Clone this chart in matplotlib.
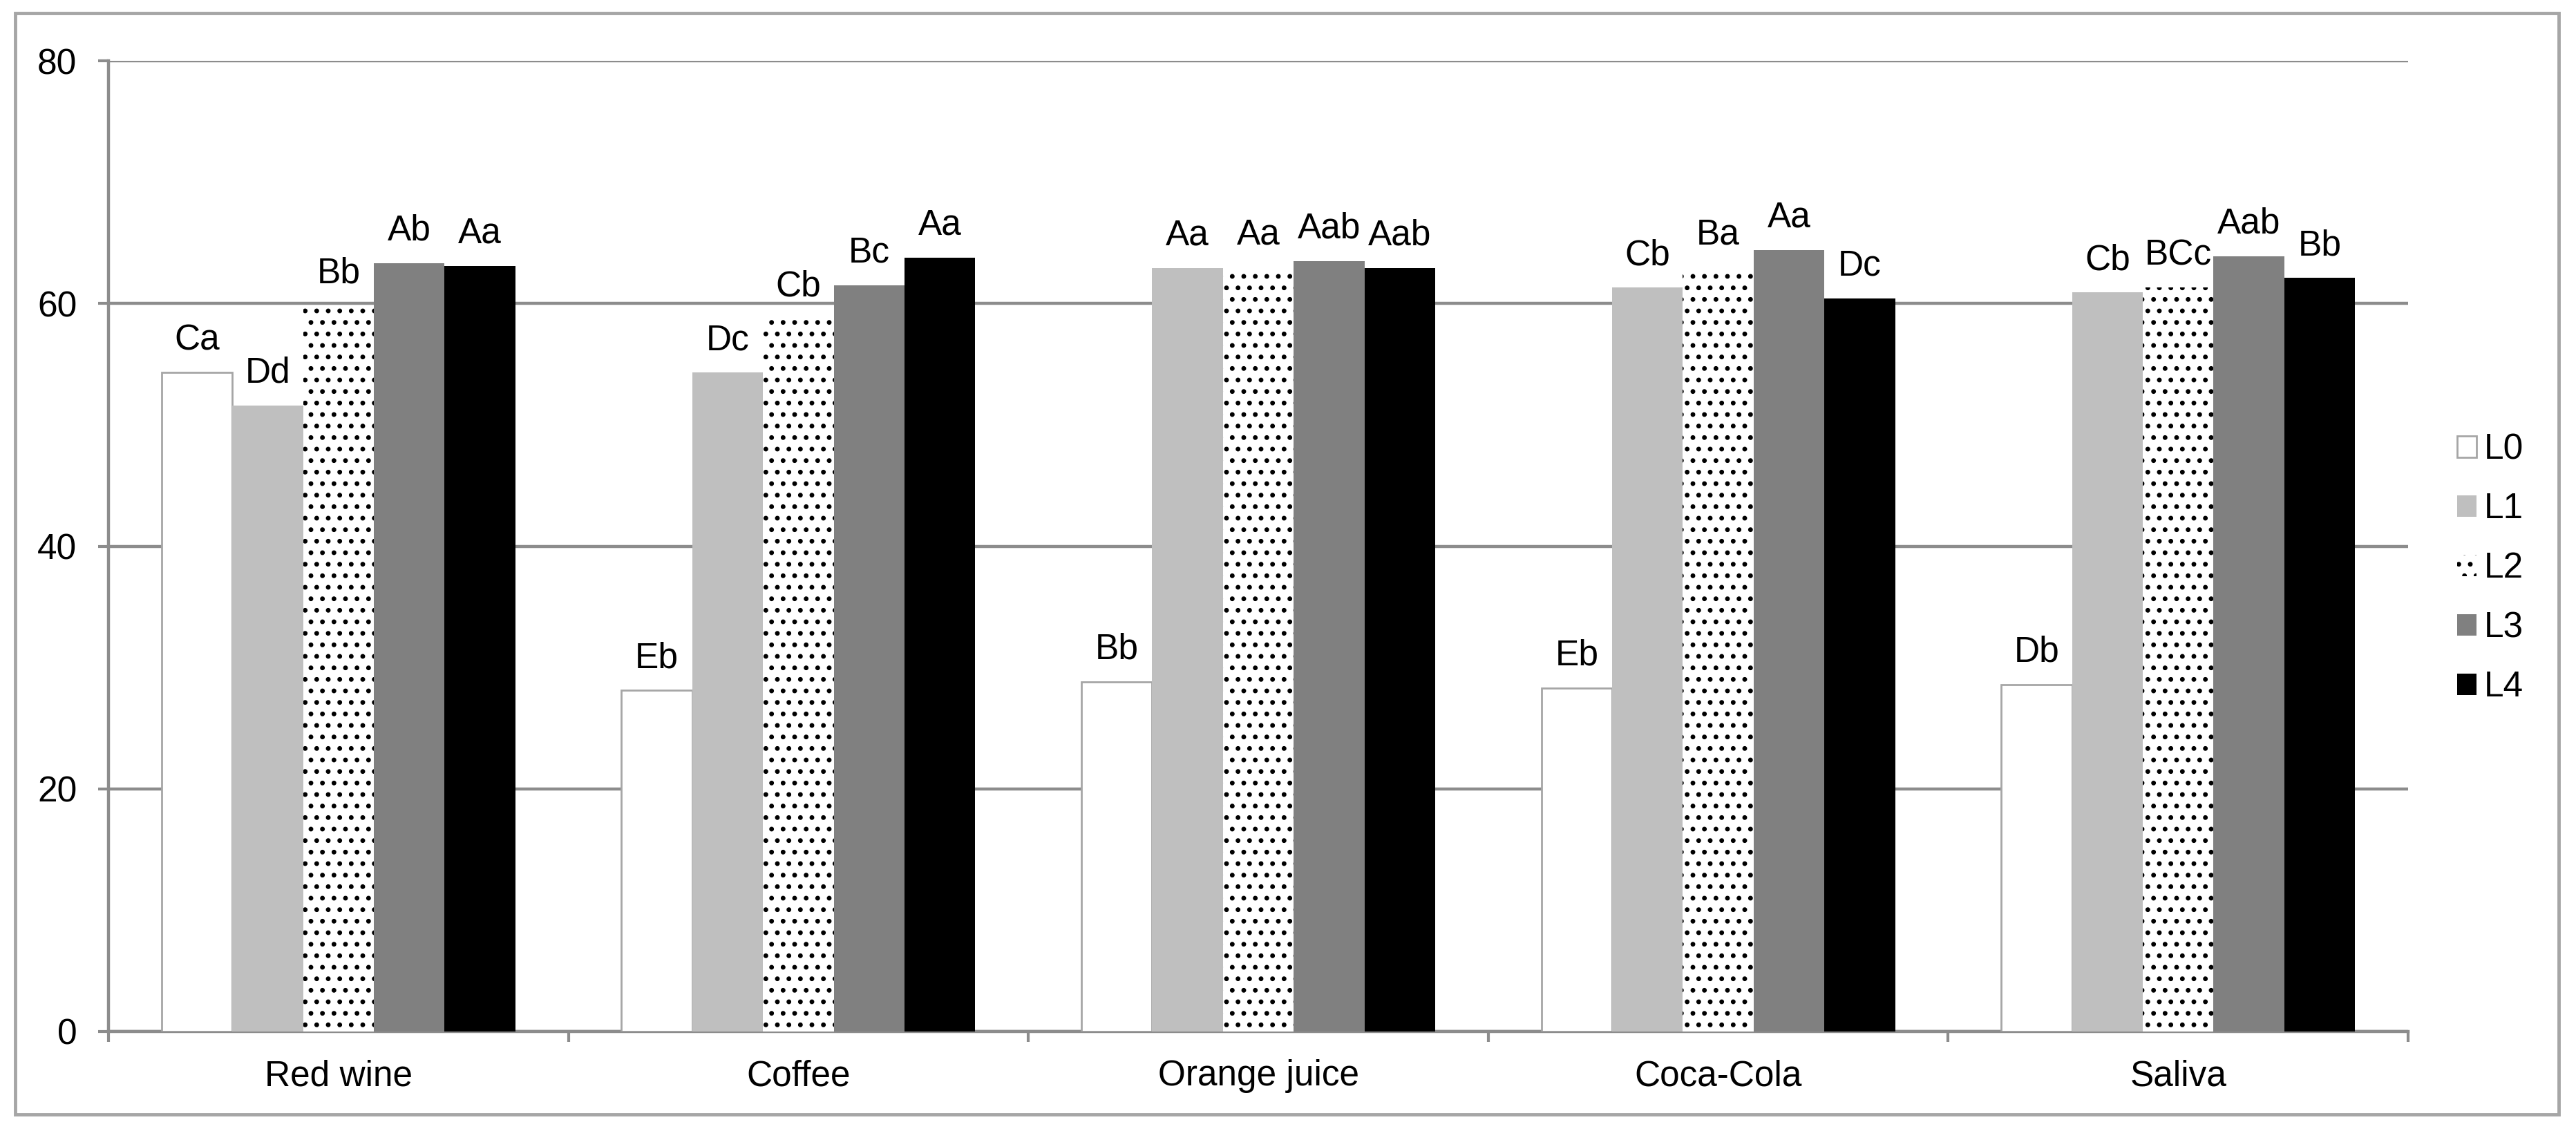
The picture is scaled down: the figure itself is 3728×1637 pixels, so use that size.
import matplotlib
matplotlib.use("Agg")
import matplotlib.pyplot as plt
import numpy as np
from matplotlib.patches import Rectangle

plt.rcParams['font.family'] = ['Liberation Sans', 'DejaVu Sans']
plt.rcParams['hatch.linewidth'] = 2.5

# data
categories = ["Red wine", "Coffee", "Orange juice", "Coca-Cola", "Saliva"]
series_names = ["L0", "L1", "L2", "L3", "L4"]
L0 = [54.3, 28.1, 28.8, 28.3, 28.6]
L1 = [51.6, 54.3, 62.9, 61.3, 60.9]
L2 = [59.8, 58.7, 63.0, 63.0, 61.3]
L3 = [63.3, 61.5, 63.5, 64.4, 63.9]
L4 = [63.1, 63.8, 62.9, 60.4, 62.1]
letters_L0 = ["Ca", "Eb", "Bb", "Eb", "Db"]
letters_L1 = ["Dd", "Dc", "Aa", "Cb", "Cb"]
letters_L2 = ["Bb", "Cb", "Aa", "Ba", "BCc"]
letters_L3 = ["Ab", "Bc", "Aab", "Aa", "Aab"]
letters_L4 = ["Aa", "Aa", "Aab", "Dc", "Bb"]
y_ticks = [0, 20, 40, 60, 80]

values = [L0, L1, L2, L3, L4]
letters = [letters_L0, letters_L1, letters_L2, letters_L3, letters_L4]

# styles per series (fill, edge, hatch)
styles = [
    dict(color="white", edgecolor="#a6a6a6", linewidth=2.0),
    dict(color="#bfbfbf", edgecolor="#bfbfbf", linewidth=0),
    dict(color="white", edgecolor="black", linewidth=0, hatch="."),
    dict(color="#808080", edgecolor="#808080", linewidth=0),
    dict(color="black", edgecolor="black", linewidth=0),
]

grid_col = "#8c8c8c"
fs = 37

fig = plt.figure(figsize=(37.28, 16.37), dpi=100)
ax = fig.add_axes([157 / 3728, 1 - 1493 / 1637, (3485 - 157) / 3728, (1493 - 88) / 1637])

x = np.arange(len(categories))
w = 1 / 6.5
for j in range(5):
    pos = x + (j - 2) * w
    ax.bar(pos, values[j], width=w, label=series_names[j], zorder=3, **styles[j])
    # significance letters above each bar
    for k in range(len(categories)):
        ax.annotate(letters[j][k], (pos[k], values[j][k]), xytext=(0, 24),
                    textcoords="offset points", ha="center", va="baseline",
                    fontsize=fs, zorder=4)

ax.set_xlim(-0.5, 4.5)
ax.set_ylim(0, 80)
ax.set_yticks(y_ticks)
ax.yaxis.grid(True, color=grid_col, linewidth=3.2, zorder=0)
ax.set_axisbelow(True)

ax.set_xticks(x)
ax.set_xticklabels(categories)
ax.set_xticks(np.arange(-0.5, 5, 1), minor=True)
ax.tick_params(axis="x", which="major", length=0, pad=29, labelsize=fs)
ax.tick_params(axis="x", which="minor", length=11, width=3, color=grid_col, direction="out")
ax.tick_params(axis="y", length=11, width=3, color=grid_col, pad=22, labelsize=fs)

for s in ["top", "right"]:
    ax.spines[s].set_visible(False)
for s in ["left", "bottom"]:
    ax.spines[s].set_color(grid_col)
    ax.spines[s].set_linewidth(3.2)

fig.legend(loc="center left", bbox_to_anchor=(3556 / 3728, 1 - 823 / 1637),
           frameon=False, fontsize=fs, handlelength=0.55, handleheight=0.55,
           handletextpad=0.2, labelspacing=0.72, borderpad=0, borderaxespad=0)

# outer frame around the whole chart
fig.patches.append(Rectangle((22 / 3728, 1 - 1613 / 1637), (3703 - 22) / 3728, (1613 - 19) / 1637,
                             transform=fig.transFigure, fill=False, edgecolor="#a6a6a6",
                             linewidth=3.5))

fig.savefig("out.png", dpi=100)
